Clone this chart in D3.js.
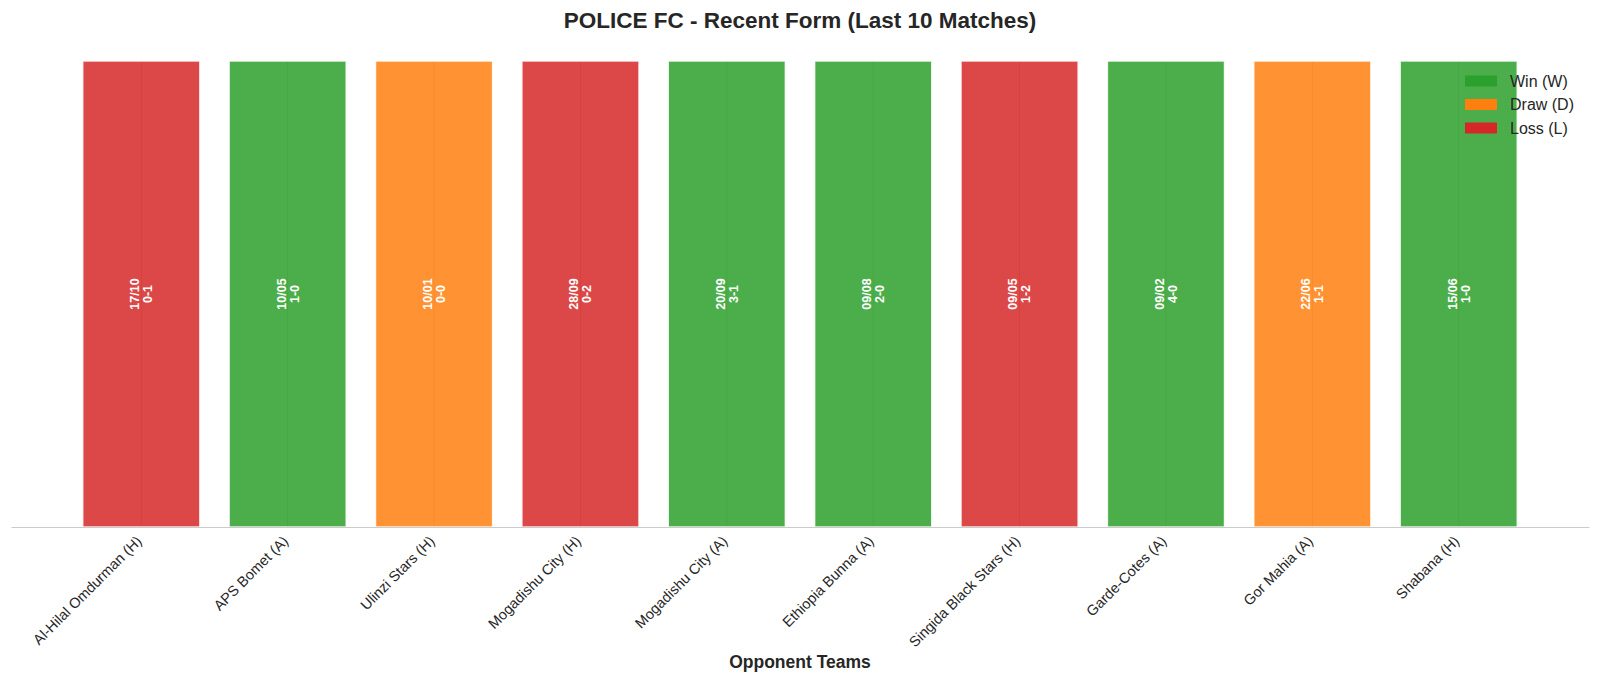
<!DOCTYPE html>
<html>
<head>
<meta charset="utf-8">
<script src="https://cdn.jsdelivr.net/npm/d3@7/dist/d3.min.js"></script>
<style>
  html, body { margin: 0; padding: 0; background: #ffffff; }
  svg { display: block; font-family: "Liberation Sans", Arial, sans-serif; }
</style>
</head>
<body>
<script>
const teams = ["Al-Hilal Omdurman (H)", "APS Bomet (A)", "Ulinzi Stars (H)", "Mogadishu City (H)", "Mogadishu City (A)", "Ethiopia Bunna (A)", "Singida Black Stars (H)", "Garde-Cotes (A)", "Gor Mahia (A)", "Shabana (H)"];
const results = ["L", "W", "D", "L", "W", "W", "L", "W", "D", "W"];
const dates = ["17/10", "10/05", "10/01", "28/09", "20/09", "09/08", "09/05", "09/02", "22/06", "15/06"];
const scores = ["0-1", "1-0", "0-0", "0-2", "3-1", "2-0", "1-2", "4-0", "1-1", "1-0"];
const values = [1, 1, 1, 1, 1, 1, 1, 1, 1, 1];
const legendKeys = ["W", "D", "L"];
const legendLabels = ["Win (W)", "Draw (D)", "Loss (L)"];
const resultColors = { W: "#2ca02c", D: "#ff7f0e", L: "#d62728" };

const W = 1600, H = 683;
const plot = { left: 11, right: 1589, top: 61, bottom: 527 };

const svg = d3.select("body").append("svg").attr("width", W).attr("height", H);

const x = d3.scaleLinear().domain([-0.89, 9.89]).range([plot.left, plot.right]);
const y = d3.scaleLinear().domain([0, 1]).range([plot.bottom, plot.top]);
const idx = d3.range(teams.length);
const barW = x(0.4) - x(-0.4);

// vertical grid
svg.append("g").selectAll("line").data(idx).join("line")
  .attr("x1", d => x(d)).attr("x2", d => x(d))
  .attr("y1", plot.top).attr("y2", plot.bottom)
  .attr("stroke", "#cccccc").attr("stroke-width", 1);

// bars
svg.append("g").selectAll("rect").data(idx).join("rect")
  .attr("x", d => x(d) - barW / 2)
  .attr("width", barW)
  .attr("y", d => y(values[d]))
  .attr("height", d => y(0) - y(values[d]))
  .attr("fill", d => resultColors[results[d]])
  .attr("fill-opacity", 0.85)
  .attr("stroke", "#ffffff").attr("stroke-opacity", 0.85).attr("stroke-width", 1.5);

// bar labels
const lab = svg.append("g").selectAll("text").data(idx).join("text")
  .attr("transform", d => `translate(${x(d)},${y(values[d] / 2)}) rotate(-90)`)
  .attr("text-anchor", "middle")
  .attr("fill", "#ffffff").attr("font-weight", "bold").attr("font-size", 12.5);
lab.append("tspan").attr("x", 0).attr("y", -6.5).attr("dy", "0.35em").text(d => dates[d]);
lab.append("tspan").attr("x", 0).attr("y", 6.5).attr("dy", "0.35em").text(d => scores[d]);

// x axis
const xAxis = d3.axisBottom(x).tickValues(idx).tickFormat(d => teams[d]).tickSize(0).tickPadding(0);
const gx = svg.append("g").attr("transform", `translate(0,${plot.bottom})`).call(xAxis);
gx.select(".domain").attr("stroke", "#cccccc").attr("stroke-width", 1.2);
gx.selectAll("text")
  .attr("font-family", "Liberation Sans, Arial, sans-serif")
  .attr("font-size", 14.5).attr("fill", "#262626")
  .attr("text-anchor", "end")
  .attr("dy", null).attr("y", null)
  .attr("transform", "translate(1,15) rotate(-45)");

// axis title
svg.append("text").attr("x", (plot.left + plot.right) / 2).attr("y", 668)
  .attr("text-anchor", "middle").attr("font-weight", "bold").attr("font-size", 17.5)
  .attr("fill", "#262626").text("Opponent Teams");

// title
svg.append("text").attr("x", (plot.left + plot.right) / 2).attr("y", 28)
  .attr("text-anchor", "middle").attr("font-weight", "bold").attr("font-size", 22.5)
  .attr("fill", "#262626").text("POLICE FC - Recent Form (Last 10 Matches)");

// legend
const lg = svg.append("g").selectAll("g").data(legendKeys).join("g")
  .attr("transform", (d, i) => `translate(1465,${81 + i * 23.5})`);
lg.append("rect").attr("x", 0).attr("y", -5.5).attr("width", 32).attr("height", 11)
  .attr("fill", d => resultColors[d]);
lg.append("text").attr("x", 45).attr("y", 0).attr("dy", "0.35em")
  .attr("font-size", 16).attr("fill", "#262626").text((d, i) => legendLabels[i]);
</script>
</body>
</html>
